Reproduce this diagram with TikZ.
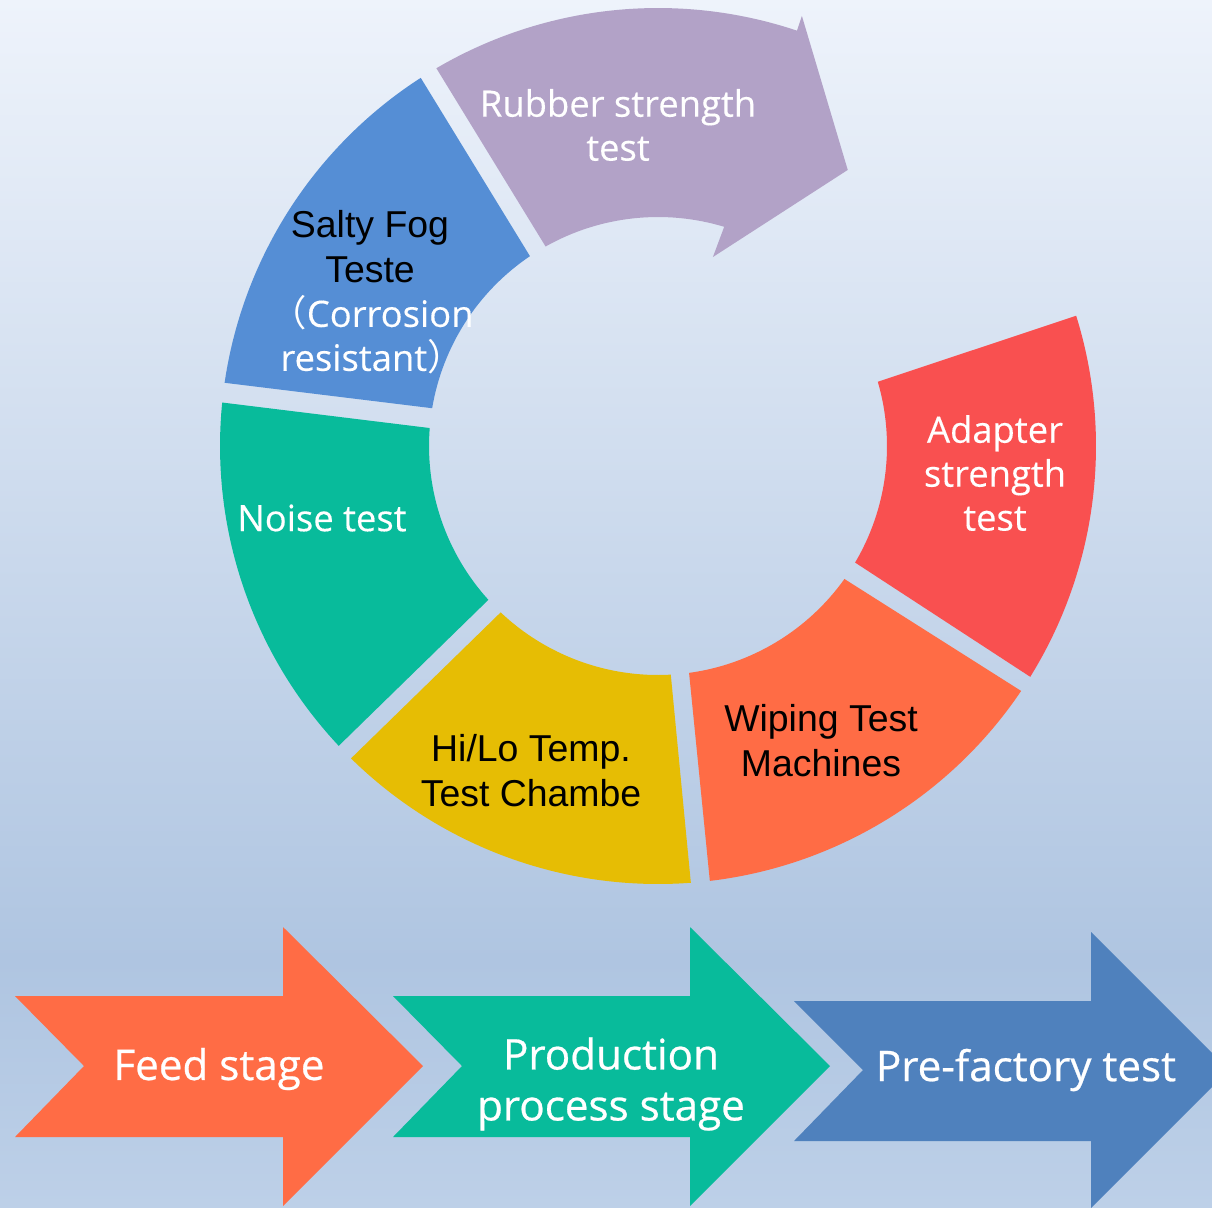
\documentclass[tikz,border=0pt]{standalone}
\usepackage{fontspec}
\setmainfont{Open Sans}
\newfontfamily\arialfont{Liberation Sans}
\newfontfamily\cjkfont{Noto Sans CJK SC}
\newfontfamily\ringfont[FakeBold=0.3]{Open Sans}
\newfontfamily\stagefont[FakeBold=0.6]{Open Sans}
\usetikzlibrary{positioning}

\definecolor{bgtop}{HTML}{EEF3FB}
\definecolor{bgmid}{HTML}{AFC5E1}
\definecolor{bgbot}{HTML}{BDD0E8}
\definecolor{rubbercol}{HTML}{B2A2C7}
\definecolor{saltycol}{HTML}{558ED5}
\definecolor{noisecol}{HTML}{08BB9B}
\definecolor{hilocol}{HTML}{E6BD04}
\definecolor{wipingcol}{HTML}{FF6C45}
\definecolor{adaptercol}{HTML}{F95050}
\definecolor{prefactcol}{HTML}{4F81BD}

\tikzset{
  seglabel/.style={text=white, align=center, inner sep=0pt, font=\ringfont\fontsize{20.7}{25}\selectfont},
  darklabel/.style={text=black, align=center, inner sep=0pt, font=\arialfont\fontsize{21.3}{25.5}\selectfont},
  stagelabel/.style={text=white, align=center, inner sep=0pt, font=\stagefont\fontsize{24}{29}\selectfont},
}

\begin{document}
\begin{tikzpicture}[x=0.02cm,y=0.02cm]
% background
\shade[top color=bgtop, bottom color=bgmid] (0,0) rectangle (1212,-960);
\shade[top color=bgmid, bottom color=bgbot] (0,-960) rectangle (1212,-1207);
\useasboundingbox (0,0) rectangle (1212,-1207);
\clip (0,0) rectangle (1212,-1207);

% ring of tests
\begin{scope}[shift={(658,-446)}]
\fill[rubbercol] (119.4:229) -- (120.4:438) arc[start angle=120.4, end angle=71.5, radius=438]
  -- (71.5:453.5) -- (55.5:335) -- (73.8:196.8) -- (73.2:229)
  arc[start angle=73.2, end angle=119.4, radius=229] -- cycle;
\fill[saltycol] (122.8:438) arc[start angle=122.8, end angle=171.7, radius=438]
  -- (170.5:229) arc[start angle=170.5, end angle=124, radius=229] -- cycle;
\fill[noisecol] (174.3:438) arc[start angle=174.3, end angle=223.2, radius=438]
  -- (222.2:229) arc[start angle=222.2, end angle=175.5, radius=229] -- cycle;
\fill[hilocol] (225.5:438) arc[start angle=225.5, end angle=274.3, radius=438]
  -- (273.2:229) arc[start angle=273.2, end angle=226.6, radius=229] -- cycle;
\fill[wipingcol] (276.8:438) arc[start angle=276.8, end angle=326, radius=438]
  -- (324.5:229) arc[start angle=324.5, end angle=277.8, radius=229] -- cycle;
\fill[adaptercol] (328.2:438) arc[start angle=328.2, end angle=377.3, radius=438]
  -- (376.3:229) arc[start angle=376.3, end angle=329.4, radius=229] -- cycle;
\end{scope}

\node[seglabel] (rubber) at (618,-125) {Rubber strength\\test};
\node[darklabel] (salty) at (370,-247) {Salty Fog\\Teste};
\node[seglabel] (saltynote) at (372,-335) {{\cjkfont （}Corrosion\\resistant{\cjkfont ）}};
\node[seglabel] (adapter) at (995,-473) {Adapter\\strength\\test};
\node[seglabel] (noise) at (322,-518) {Noise test};
\node[darklabel] (hilo) at (531,-771) {Hi/Lo Temp.\\Test Chambe};
\node[darklabel] (wiping) at (821,-741) {Wiping Test\\Machines};

% stages
\fill[wipingcol] (15,-996) -- (283,-996) -- (283,-927) -- (423,-1066) -- (283,-1206)
  -- (283,-1137) -- (15,-1137) -- (84,-1066) -- cycle;
\fill[noisecol] (393,-996) -- (690,-996) -- (690,-927) -- (830,-1066) -- (690,-1206)
  -- (690,-1137) -- (393,-1137) -- (462,-1066) -- cycle;
\fill[prefactcol] (794,-1001) -- (1091,-1001) -- (1091,-932) -- (1229,-1070) -- (1091,-1208)
  -- (1091,-1141) -- (794,-1141) -- (863,-1070) -- cycle;

\node[stagelabel] (feed) at (219,-1069) {Feed stage};
\node[stagelabel] (production) at (611,-1084) {Production\\process stage};
\node[stagelabel] (prefactory) at (1026,-1070) {Pre-factory test};
\end{tikzpicture}
\end{document}
